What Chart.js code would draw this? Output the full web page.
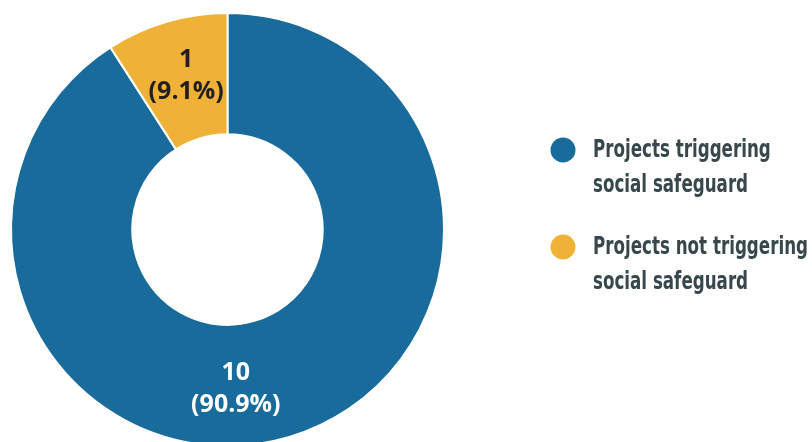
<!DOCTYPE html>
<html>
<head>
<meta charset="utf-8">
<script src="https://cdn.jsdelivr.net/npm/chart.js@4.4.1/dist/chart.umd.min.js"></script>
<style>
  html, body { margin: 0; padding: 0; background: #ffffff; overflow: hidden; width: 812px; height: 442px; }
  #wrap { position: absolute; left: 0; top: 0; width: 812px; height: 460px; }
</style>
</head>
<body>
<div id="wrap"><canvas id="c" width="812" height="460"></canvas></div>
<script>
// ---- data ----
const categories = [
  ["Projects triggering", "social safeguard"],
  ["Projects not triggering", "social safeguard"]
];
const counts = [10, 1];
const percentLabels = ["90.9%", "9.1%"];
const sliceColors = ["#186b9b", "#efb136"];
const labelTextColors = ["#ffffff", "#231f20"];

// ---- label plugin (draws value + percent inside slices) ----
const sliceLabels = {
  id: 'sliceLabels',
  afterDatasetsDraw(chart, args, opts) {
    const ctx = chart.ctx;
    const meta = chart.getDatasetMeta(0);
    ctx.save();
    ctx.font = 'bold 25px "Open Sans", "Noto Sans", sans-serif';
    ctx.textAlign = 'center';
    ctx.textBaseline = 'middle';
    meta.data.forEach((arc, i) => {
      const p = arc.getProps(['x', 'y', 'startAngle', 'endAngle', 'innerRadius', 'outerRadius'], true);
      let ang = (p.startAngle + p.endAngle) / 2;
      if (opts.angles && opts.angles[i] != null) ang = -Math.PI / 2 + opts.angles[i] * Math.PI / 180;
      const rf = (opts.radial && opts.radial[i] != null) ? opts.radial[i] : 0.5;
      const r = p.innerRadius + (p.outerRadius - p.innerRadius) * rf;
      const cx = p.x + r * Math.cos(ang);
      const cy = p.y + r * Math.sin(ang);
      ctx.fillStyle = labelTextColors[i];
      ctx.fillText(String(counts[i]), cx, cy - 16);
      ctx.fillText('(' + percentLabels[i] + ')', cx, cy + 16);
    });
    ctx.restore();
  }
};

// ---- legend plugin (drawn on canvas at right) ----
const sideLegend = {
  id: 'sideLegend',
  afterDraw(chart, args, opts) {
    const ctx = chart.ctx;
    ctx.save();
    const font = 'bold 25px "Liberation Sans Narrow", "DejaVu Sans Condensed", "Liberation Sans", sans-serif';
    ctx.font = font;
    let widest = 0;
    categories.forEach(lines => lines.forEach(t => { widest = Math.max(widest, ctx.measureText(t).width); }));
    const sx = Math.min(1, opts.maxTextWidth / widest);
    categories.forEach((lines, i) => {
      const y0 = opts.top + i * opts.itemGap;
      ctx.beginPath();
      ctx.fillStyle = sliceColors[i];
      ctx.arc(opts.markerX, y0, opts.markerR, 0, Math.PI * 2);
      ctx.fill();
      ctx.fillStyle = '#37474c';
      ctx.textAlign = 'left';
      ctx.textBaseline = 'middle';
      lines.forEach((t, j) => {
        ctx.save();
        ctx.translate(opts.textX, y0 + j * opts.lineGap);
        ctx.scale(sx, 1);
        ctx.font = font;
        ctx.fillText(t, 0, 0);
        ctx.restore();
      });
    });
    ctx.restore();
  }
};

new Chart(document.getElementById('c'), {
  type: 'doughnut',
  data: {
    labels: categories.map(l => l.join(' ')),
    datasets: [{
      data: counts,
      backgroundColor: sliceColors,
      borderColor: '#ffffff',
      borderWidth: 2,
      hoverOffset: 0
    }]
  },
  options: {
    responsive: false,
    animation: false,
    cutout: '44%',
    layout: { padding: { left: 9, right: 366, top: 12, bottom: 13 } },
    plugins: {
      legend: { display: false },
      tooltip: { enabled: false },
      sliceLabels: { angles: [177, -15], radial: [0.53, 0.53] },
      sideLegend: { markerX: 563, markerR: 12.5, textX: 593, top: 150, itemGap: 97, lineGap: 35, maxTextWidth: 215 }
    }
  },
  plugins: [sliceLabels, sideLegend]
});
</script>
</body>
</html>
